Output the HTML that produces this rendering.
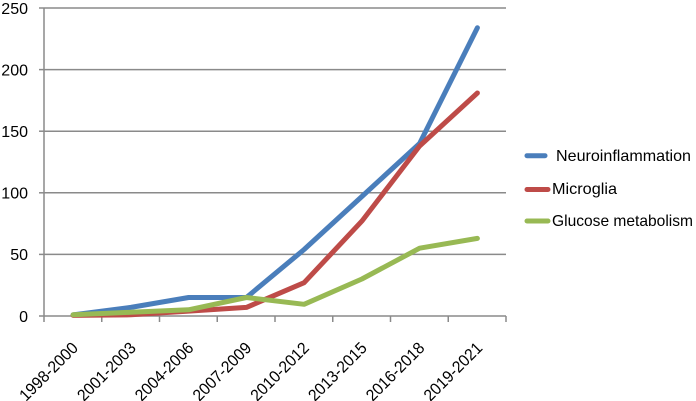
<!DOCTYPE html>
<html><head><meta charset="utf-8"><style>
html,body{margin:0;padding:0;background:#fff;}
svg{display:block;}
text{font-family:"Liberation Sans",sans-serif;fill:#000;}
</style></head><body>
<svg width="696" height="401" viewBox="0 0 696 401" xmlns="http://www.w3.org/2000/svg">
<g stroke="#8a8a8a" stroke-width="1.5" fill="none">
<line x1="44" y1="8" x2="506" y2="8"/>
<line x1="44" y1="69.6" x2="506" y2="69.6"/>
<line x1="44" y1="131.2" x2="506" y2="131.2"/>
<line x1="44" y1="192.8" x2="506" y2="192.8"/>
<line x1="44" y1="254.4" x2="506" y2="254.4"/>
<line x1="39" y1="316" x2="506" y2="316"/>
<line x1="44" y1="8" x2="44" y2="322"/>
<line x1="39" y1="8" x2="44" y2="8"/>
<line x1="39" y1="69.6" x2="44" y2="69.6"/>
<line x1="39" y1="131.2" x2="44" y2="131.2"/>
<line x1="39" y1="192.8" x2="44" y2="192.8"/>
<line x1="39" y1="254.4" x2="44" y2="254.4"/>
<line x1="101.75" y1="316" x2="101.75" y2="322"/>
<line x1="159.5" y1="316" x2="159.5" y2="322"/>
<line x1="217.25" y1="316" x2="217.25" y2="322"/>
<line x1="275" y1="316" x2="275" y2="322"/>
<line x1="332.75" y1="316" x2="332.75" y2="322"/>
<line x1="390.5" y1="316" x2="390.5" y2="322"/>
<line x1="448.25" y1="316" x2="448.25" y2="322"/>
<line x1="506" y1="316" x2="506" y2="322"/>
</g>
<g font-size="16" text-anchor="end">
<text x="28" y="13.8">250</text>
<text x="28" y="75.4">200</text>
<text x="28" y="137">150</text>
<text x="28" y="198.6">100</text>
<text x="28" y="260.2">50</text>
<text x="28" y="321.8">0</text>
</g>
<g font-size="16.5" text-anchor="end">
<text transform="translate(79,349) rotate(-45)" textLength="75" lengthAdjust="spacingAndGlyphs">1998-2000</text>
<text transform="translate(136.9,349) rotate(-45)" textLength="75" lengthAdjust="spacingAndGlyphs">2001-2003</text>
<text transform="translate(194.6,349) rotate(-45)" textLength="75" lengthAdjust="spacingAndGlyphs">2004-2006</text>
<text transform="translate(252.4,349) rotate(-45)" textLength="75" lengthAdjust="spacingAndGlyphs">2007-2009</text>
<text transform="translate(310.1,349) rotate(-45)" textLength="75" lengthAdjust="spacingAndGlyphs">2010-2012</text>
<text transform="translate(367.9,349) rotate(-45)" textLength="75" lengthAdjust="spacingAndGlyphs">2013-2015</text>
<text transform="translate(425.6,349) rotate(-45)" textLength="75" lengthAdjust="spacingAndGlyphs">2016-2018</text>
<text transform="translate(483.4,349) rotate(-45)" textLength="75" lengthAdjust="spacingAndGlyphs">2019-2021</text>
</g>
<g fill="none" stroke-width="5" stroke-linejoin="round" stroke-linecap="round">
<polyline stroke="#4a7ebb" points="73.1,314.8 130.9,307.4 188.6,297.5 246.4,297.5 304.1,249.5 361.9,196.5 419.6,143.5 477.4,27.7"/>
<polyline stroke="#be4b48" points="73.1,315.4 130.9,314.8 188.6,311.1 246.4,307.4 304.1,282.7 361.9,221.1 419.6,146 477.4,93"/>
<polyline stroke="#98b954" points="73.1,314.8 130.9,312.3 188.6,309.8 246.4,297.5 304.1,304.3 361.9,279 419.6,248.2 477.4,238.4"/>
</g>
<g stroke-width="5" stroke-linecap="round">
<line x1="527" y1="155.7" x2="545" y2="155.7" stroke="#4a7ebb"/>
<line x1="527" y1="189.5" x2="548" y2="189.5" stroke="#be4b48"/>
<line x1="527" y1="221" x2="548" y2="221" stroke="#98b954"/>
</g>
<g font-size="16">
<text x="556" y="161" textLength="135" lengthAdjust="spacingAndGlyphs">Neuroinflammation</text>
<text x="552" y="194" textLength="65" lengthAdjust="spacingAndGlyphs">Microglia</text>
<text x="552" y="226" textLength="141" lengthAdjust="spacingAndGlyphs">Glucose metabolism</text>
</g>
</svg>
</body></html>
